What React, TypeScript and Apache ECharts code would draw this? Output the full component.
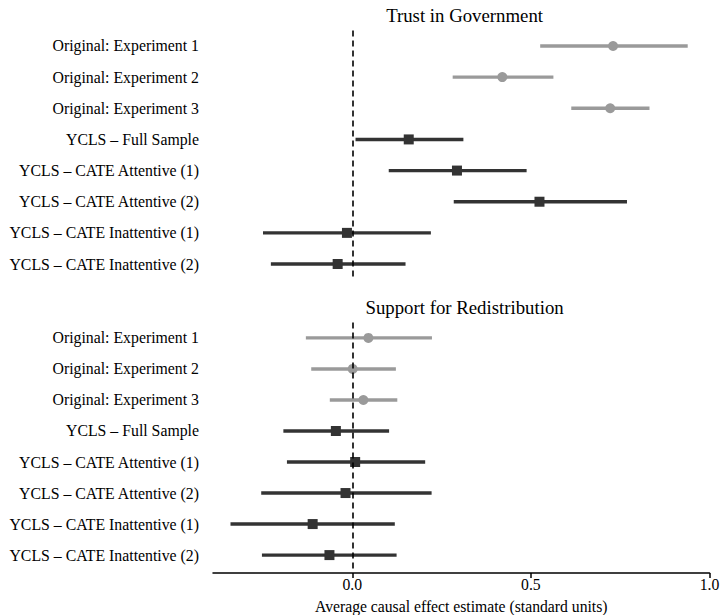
import React, { useEffect, useRef } from "react";
import * as echarts from "echarts";

// Rows shared by both panels (top to bottom)
const rowLabels = [
  "Original: Experiment 1",
  "Original: Experiment 2",
  "Original: Experiment 3",
  "YCLS \u2013 Full Sample",
  "YCLS \u2013 CATE Attentive (1)",
  "YCLS \u2013 CATE Attentive (2)",
  "YCLS \u2013 CATE Inattentive (1)",
  "YCLS \u2013 CATE Inattentive (2)",
];
// first three rows are the original experiments, the rest are YCLS estimates
const originalCount = 3;

// Trust in Government: point estimate and interval bounds
const trustEst = [0.73, 0.42, 0.722, 0.158, 0.293, 0.524, -0.015, -0.041];
const trustLo = [0.526, 0.281, 0.613, 0.009, 0.102, 0.284, -0.25, -0.228];
const trustHi = [0.939, 0.563, 0.832, 0.311, 0.488, 0.769, 0.22, 0.149];

// Support for Redistribution: point estimate and interval bounds
const redistEst = [0.045, 0.001, 0.031, -0.046, 0.008, -0.019, -0.111, -0.064];
const redistLo = [-0.13, -0.115, -0.063, -0.193, -0.183, -0.255, -0.341, -0.253];
const redistHi = [0.223, 0.122, 0.126, 0.103, 0.204, 0.222, 0.119, 0.124];

const panelTitles = ["Trust in Government", "Support for Redistribution"];
const xTicks = [0, 0.5, 1.0];
const xTitle = "Average causal effect estimate (standard units)";

const FONT = "Times New Roman, Liberation Serif, serif";
const GRAY = "#9a9a9a";
const DARK = "#333333";

function panelSeries(
  axisIndex: number,
  est: number[],
  lo: number[],
  hi: number[]
): any[] {
  const intervals = est.map((_, i) => [lo[i], hi[i], i, i < originalCount ? 0 : 1]);
  const origPts = est
    .map((v, i) => [v, i])
    .filter((_, i) => i < originalCount);
  const yclsPts = est
    .map((v, i) => [v, i])
    .filter((_, i) => i >= originalCount);
  return [
    {
      type: "custom",
      xAxisIndex: axisIndex,
      yAxisIndex: axisIndex,
      data: intervals,
      encode: { x: [0, 1], y: 2 },
      silent: true,
      z: 2,
      renderItem: (_params: any, api: any) => {
        const a = api.coord([api.value(0), api.value(2)]);
        const b = api.coord([api.value(1), api.value(2)]);
        const isOrig = api.value(3) === 0;
        return {
          type: "line",
          shape: { x1: a[0], y1: a[1], x2: b[0], y2: b[1] },
          style: { stroke: isOrig ? GRAY : DARK, lineWidth: 3.4, lineCap: "butt" },
        };
      },
    },
    {
      type: "scatter",
      xAxisIndex: axisIndex,
      yAxisIndex: axisIndex,
      data: origPts,
      symbol: "circle",
      symbolSize: 10,
      itemStyle: { color: GRAY, opacity: 1 },
      z: 3,
    },
    {
      type: "scatter",
      xAxisIndex: axisIndex,
      yAxisIndex: axisIndex,
      data: yclsPts,
      symbol: "rect",
      symbolSize: 10,
      itemStyle: { color: DARK, opacity: 1 },
      z: 3,
      markLine: {
        silent: true,
        symbol: "none",
        animation: false,
        z: 5,
        label: { show: false },
        lineStyle: { color: "#000", type: [6, 4], width: 1.6 },
        data: [{ xAxis: 0 }],
      },
    },
  ];
}

export default function App() {
  const ref = useRef<HTMLDivElement>(null);

  useEffect(() => {
    if (!ref.current) return;
    const chart = echarts.init(ref.current, null, { renderer: "svg" });

    const gridLeft = 213;
    const gridRight = 14.5;
    const gridHeight = 249.2;
    const centerX = 459.6;

    const yAxisBase = {
      type: "category",
      data: rowLabels,
      inverse: true,
      axisLine: { show: false },
      axisTick: { show: false },
      splitLine: { show: false },
      axisLabel: {
        color: "#000",
        fontFamily: FONT,
        fontSize: 15.8,
        margin: 14,
      },
    };

    const xAxisBase = {
      type: "value",
      min: -0.39,
      max: 1.0,
      splitLine: { show: false },
    };

    const titleStyle = { fontFamily: FONT, fontSize: 18.8, fontWeight: "normal", color: "#000" };

    chart.setOption({
      animation: false,
      backgroundColor: "#fff",
      textStyle: { fontFamily: FONT },
      title: [
        { text: panelTitles[0], left: centerX, top: 1, textAlign: "center", textStyle: titleStyle },
        { text: panelTitles[1], left: centerX, top: 292.5, textAlign: "center", textStyle: titleStyle },
      ],
      grid: [
        { left: gridLeft, right: gridRight, top: 30.4, height: gridHeight },
        { left: gridLeft, right: gridRight, top: 322.4, height: gridHeight },
      ],
      xAxis: [
        { ...xAxisBase, gridIndex: 0, show: false },
        {
          ...xAxisBase,
          gridIndex: 1,
          offset: 2.4,
          axisLine: { show: true, lineStyle: { color: "#000", width: 1.5 } },
          axisTick: {
            show: true,
            customValues: xTicks,
            length: 5,
            lineStyle: { color: "#000", width: 1.5 },
          },
          axisLabel: {
            customValues: xTicks,
            formatter: (v: number) => v.toFixed(1),
            color: "#000",
            fontFamily: FONT,
            fontSize: 15.7,
            margin: 3,
          },
          name: xTitle,
          nameLocation: "middle",
          nameGap: 25,
          nameTextStyle: { fontFamily: FONT, fontSize: 15.7, color: "#000" },
        },
      ],
      yAxis: [
        { ...yAxisBase, gridIndex: 0 },
        { ...yAxisBase, gridIndex: 1 },
      ],
      series: [
        ...panelSeries(0, trustEst, trustLo, trustHi),
        ...panelSeries(1, redistEst, redistLo, redistHi),
      ],
    });

    return () => chart.dispose();
  }, []);

  return (
    <div
      ref={ref}
      style={{ position: "fixed", left: 0, top: 0, width: 724, height: 615 }}
    />
  );
}
